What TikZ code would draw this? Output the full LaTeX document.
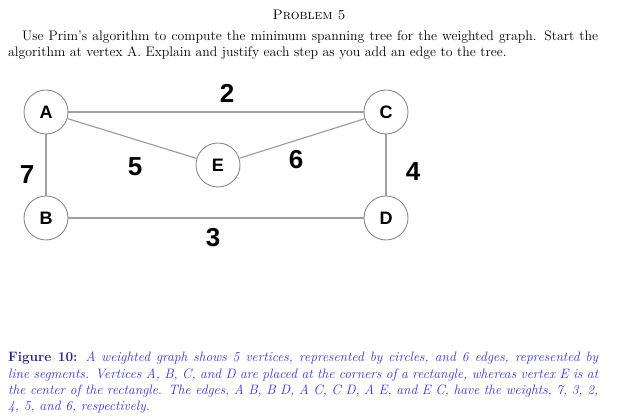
\documentclass[tikz,border=0pt]{standalone}
\usepackage{fontspec}
\newfontfamily\graphfont{Liberation Sans}
\usepackage{xcolor}
\usetikzlibrary{positioning}
\definecolor{edgegray}{HTML}{A0A0A0}
\definecolor{ringgray}{HTML}{8A8A8A}
\definecolor{capnavy}{HTML}{23238C}
\definecolor{capblue}{HTML}{3434E0}

\begin{document}
\begin{tikzpicture}[x=1pt,y=-1pt,
  vertex/.style={circle,draw=ringgray,line width=0.9pt,minimum size=44pt,inner sep=0pt,font=\graphfont\fontsize{18}{18}\selectfont\bfseries},
  weight/.style={font=\graphfont\fontsize{26}{26}\selectfont\bfseries,inner sep=0pt},
  link/.style={edgegray,line width=1.2pt}]
\useasboundingbox (0,0) rectangle (619,419);
% heading and task
\node[font=\fontsize{13.8}{15}\selectfont] (head) at (309,15) {\textsc{Problem 5}};
\node[anchor=north west,text width=590pt,align=justify,inner sep=0pt,font=\fontsize{13.8}{15.2}\selectfont] (task) at (8,31)
  {\hspace*{14pt}Use Prim's algorithm to compute the minimum spanning tree for the weighted graph. Start the algorithm at vertex A. Explain and justify each step as you add an edge to the tree.};
% vertices
\node[vertex] (A) at (46,112) {A};
\node[vertex] (C) at (386,112) {C};
\node[vertex] (E) at (218,165) {E};
\node[vertex] (B) at (46,218) {B};
\node[vertex] (D) at (386,218) {D};
% edges
\draw[link] (A) -- (C);
\draw[link] (A) -- (B);
\draw[link] (C) -- (D);
\draw[link] (B) -- (D);
\draw[link] (A) -- (E);
\draw[link] (E) -- (C);
% weights
\node[weight] (wAC) at (227,93) {2};
\node[weight] (wAB) at (27,175) {7};
\node[weight] (wAE) at (135,167) {5};
\node[weight] (wEC) at (296,160) {6};
\node[weight] (wCD) at (413,172) {4};
\node[weight] (wBD) at (213,238) {3};
% caption
\node[anchor=north west,text width=590pt,align=justify,inner sep=0pt,font=\fontsize{13.6}{16.3}\selectfont] (cap) at (8,352)
  {\textcolor{capnavy}{\bfseries Figure 10:} \textcolor{capblue}{\itshape A weighted graph shows 5 vertices, represented by circles, and 6 edges, represented by\linebreak line segments. Vertices A, B, C, and D are placed at the corners of a rectangle, whereas vertex E is at\linebreak the center of the rectangle. The edges, A B, B D, A C, C D, A E, and E C, have the weights, 7, 3, 2,\linebreak 4, 5, and 6, respectively.}};
\end{tikzpicture}
\end{document}
